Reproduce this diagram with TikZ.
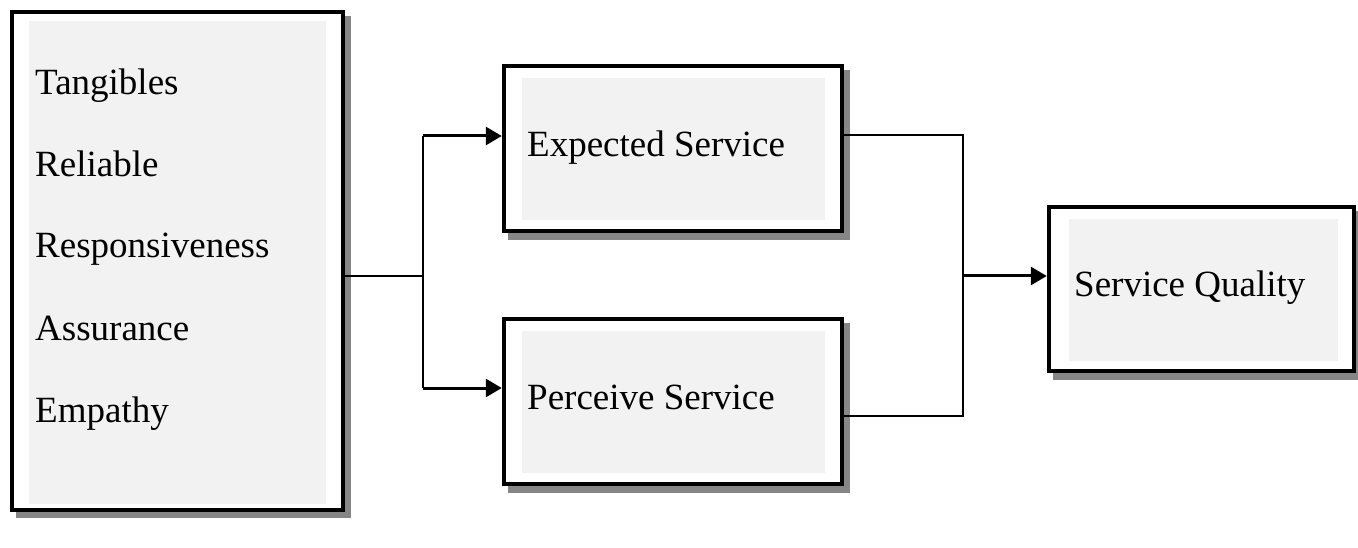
\documentclass[tikz,border=0pt]{standalone}
\usepackage{fontspec}
\setmainfont{Liberation Serif}
\usetikzlibrary{arrows.meta}
\definecolor{innergray}{HTML}{F2F2F2}
\definecolor{shadowgray}{HTML}{868686}
\begin{document}
\begin{tikzpicture}[x=1pt,y=-1pt,
  boxnode/.style={draw=black,line width=4.5pt,fill=white,inner sep=0pt},
  lbl/.style={anchor=base west,inner sep=0pt,font=\fontsize{37}{42}\selectfont},
  thinline/.style={line width=2.2pt},
  arrowline/.style={line width=3pt,-{Triangle[length=16pt,width=18pt]}},
]
\useasboundingbox (0,0) rectangle (1358,548);
% shadows
\fill[shadowgray] (16,16) rectangle (351,518);
\fill[shadowgray] (508,70) rectangle (850,240);
\fill[shadowgray] (508,323) rectangle (850,493);
\fill[shadowgray] (1053,211) rectangle (1362,380);
% boxes
\node[boxnode,minimum width=331pt,minimum height=498pt] (left) at (177.5,261) {};
\node[boxnode,minimum width=338pt,minimum height=165pt] (exp) at (673,148.5) {};
\node[boxnode,minimum width=338pt,minimum height=165pt] (per) at (673,401.5) {};
\node[boxnode,minimum width=305pt,minimum height=164pt] (sq) at (1201.5,289) {};
% inner gray panels
\fill[innergray] (29,21) rectangle (326,504);
\fill[innergray] (522,78) rectangle (825,220);
\fill[innergray] (522,331) rectangle (825,473);
\fill[innergray] (1069,219) rectangle (1338,361);
% texts
\node[lbl] (t1) at (35,95) {Tangibles};
\node[lbl] (t2) at (35,177) {Reliable};
\node[lbl] (t3) at (35,258) {Responsiveness};
\node[lbl] (t4) at (35,340) {Assurance};
\node[lbl] (t5) at (35,422) {Empathy};
\node[lbl] (texp) at (527,157) {Expected Service};
\node[lbl] (tper) at (527,409) {Perceive Service};
\node[lbl] (tsq) at (1074,297) {Service Quality};
% connectors
\coordinate (j1) at (423,276);
\coordinate (j1a) at (423,136);
\coordinate (j1b) at (423,388);
\coordinate (j2a) at (963,135);
\coordinate (j2b) at (963,416);
\coordinate (j2) at (963,276);
\draw[thinline] (left.east |- j1) -- (j1);
\draw[thinline] (j1a) -- (j1b);
\draw[arrowline] (j1a) -- (exp.west |- j1a);
\draw[arrowline] (j1b) -- (per.west |- j1b);
\draw[thinline] (exp.east |- j2a) -- (j2a) -- (j2b) -- (per.east |- j2b);
\draw[arrowline] (j2) -- (sq.west |- j2);
\end{tikzpicture}
\end{document}
